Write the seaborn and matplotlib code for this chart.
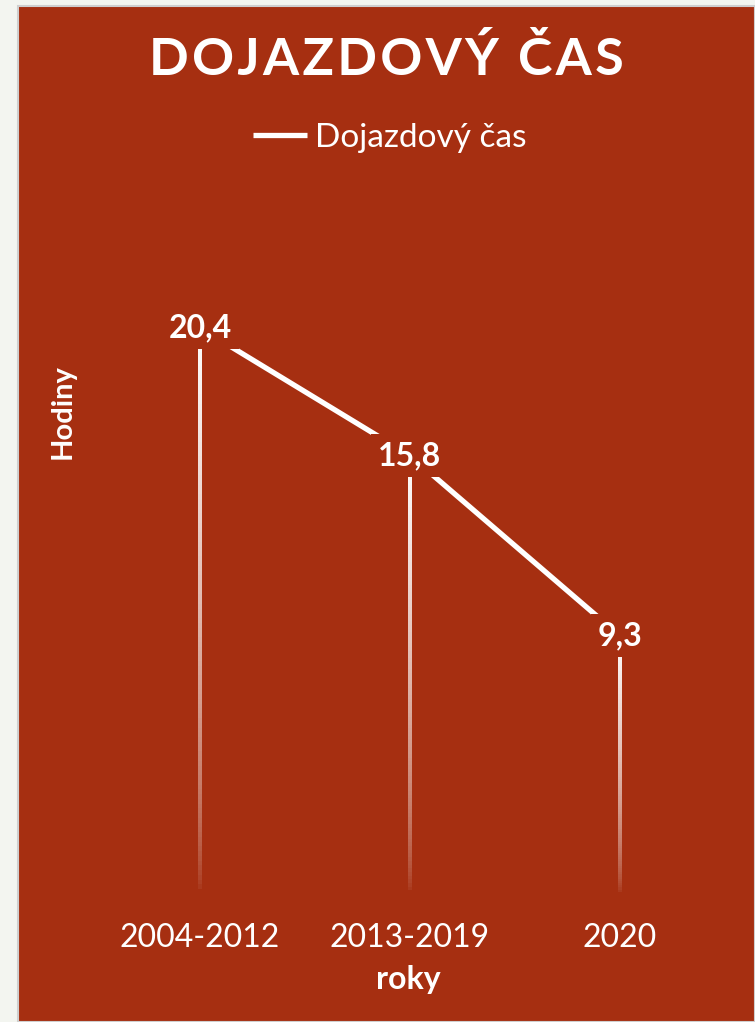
import numpy as np
import pandas as pd
import seaborn as sns
import matplotlib.pyplot as plt
from matplotlib.patches import Rectangle
from matplotlib.collections import LineCollection

# data
periods = ['2004-2012', '2013-2019', '2020']
hours = [20.4, 15.8, 9.3]
labels = ['20,4', '15,8', '9,3']
series_name = 'Dojazdový čas'
title = 'DOJAZDOVÝ ČAS'

red = '#A62F11'
page = '#F3F5F0'

sns.set_theme(style='white')
plt.rcParams['font.family'] = ['Lato', 'DejaVu Sans']

W, H = 755, 1022
fig = plt.figure(figsize=(W / 100, H / 100), dpi=100, facecolor=page)

# red slide panel
fig.patches.append(Rectangle((18 / W, 0), 1 - 18 / W, 1 - 6 / H, transform=fig.transFigure,
                             facecolor=red, edgecolor='#CFCFCF', linewidth=1.5, zorder=-5))

ax = fig.add_axes([95 / W, (H - 894) / H, 630 / W, (894 - 283.5) / H])
ax.set_facecolor('none')
ax.set_zorder(2)

df = pd.DataFrame({'roky': periods, 'Hodiny': hours})
df['x'] = range(len(df))

# drop lines fading towards the bottom
for x, v in zip(df['x'], df['Hodiny']):
    ys = np.linspace(0, v, 120)
    segs = [[(x, ys[i]), (x, ys[i + 1])] for i in range(len(ys) - 1)]
    alphas = (ys[:-1] / v) ** 0.6
    cols = [(1, 1, 1, a) for a in alphas]
    ax.add_collection(LineCollection(segs, colors=cols, linewidths=1.6, zorder=1,
                                     antialiaseds=False, capstyle='butt'))

sns.lineplot(data=df, x='x', y='Hodiny', ax=ax, color='white', linewidth=3.8,
             label=series_name, zorder=2, solid_capstyle='butt')

for x, v, t in zip(df['x'], df['Hodiny'], labels):
    ax.text(x, v, t, ha='center', va='center', color='white', fontsize=23, fontweight='bold',
            zorder=3, bbox=dict(boxstyle='square,pad=0.22', facecolor=red, edgecolor='none'))

ax.set_xlim(-0.5, 2.5)
ax.set_ylim(0, 22)
ax.set_xticks(df['x'])
ax.set_xticklabels(periods)
ax.set_yticks([])
ax.tick_params(axis='x', length=0, pad=21, labelsize=23, labelcolor='white')
for s in ax.spines.values():
    s.set_visible(False)
ax.set_xlabel('')
ax.set_ylabel('')

fig.text(408 / W, 1 - 980 / H, 'roky', ha='center', va='center', color='white',
         fontsize=23, fontweight='bold')
fig.text(63 / W, 1 - 412 / H, 'Hodiny', ha='center', va='center', color='white',
         fontsize=21, fontweight='bold', rotation=90)
fig.text(386 / W, 1 - 60 / H, '\u200a'.join(title), ha='center', va='center', color='white',
         fontsize=37.5, fontweight='bold')

leg = ax.legend(loc='center', bbox_to_anchor=(390 / W, 1 - 138 / H), bbox_transform=fig.transFigure,
                frameon=False, fontsize=24, handlelength=1.6, handletextpad=0.25)
for t in leg.get_texts():
    t.set_color('white')

fig.savefig('out.png', dpi=100, facecolor=page)
